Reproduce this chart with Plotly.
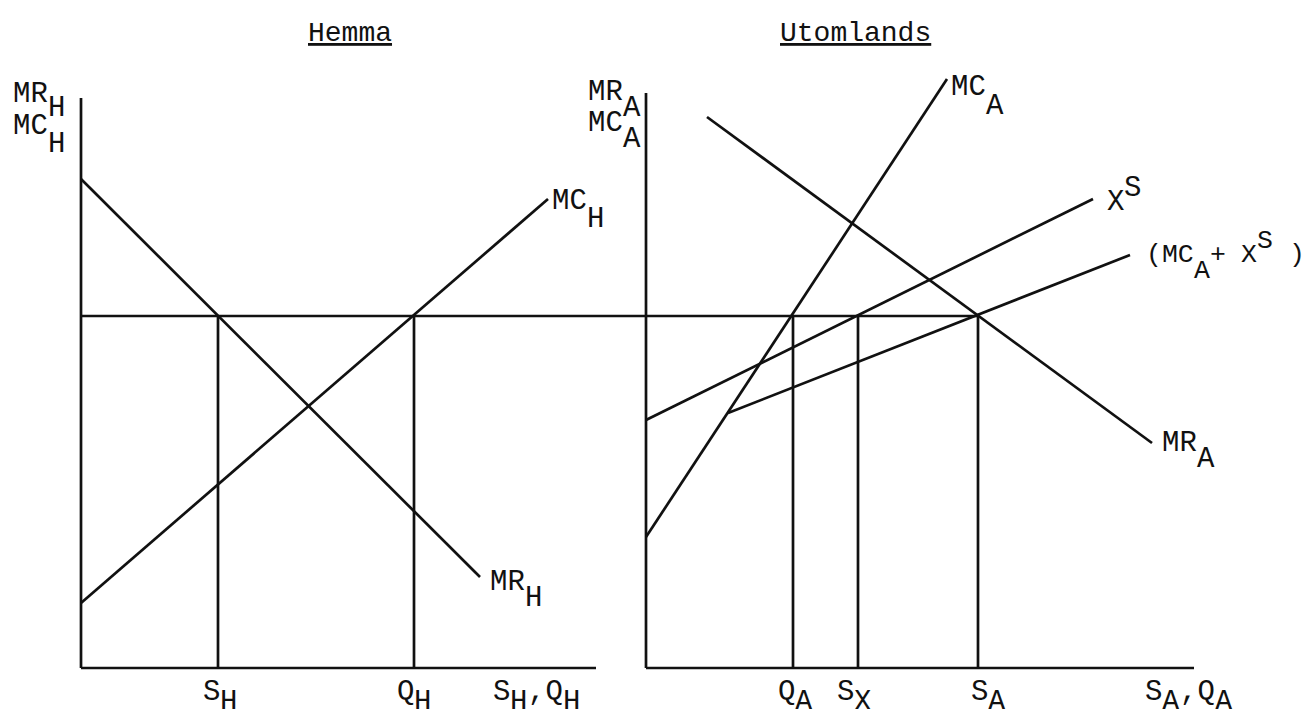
import plotly.graph_objects as go

FONT = "Liberation Mono, Courier New, monospace"
FS = 29
INK = "#111111"
LW = 2.7

# ---------------- Hemma (home) panel : quantity / price units ----------------
p_star = 70.4                 # common price level (horizontal line)
home_q_axis_end = 103.0
home_p_axis_end = 114.0
home_price_line_end = 113.0   # horizontal line continues to the abroad axis
S_H = 27.4
Q_H = 66.6
MR_H_q = [0.0, 79.8]
MR_H_p = [97.8, 18.2]
MC_H_q = [0.0, 93.4]
MC_H_p = [13.0, 93.8]

# ---------------- Utomlands (abroad) panel ----------------
abroad_q_axis_end = 109.6
abroad_p_axis_end = 115.0
Q_A = 29.4
S_X = 42.4
S_A = 66.4
MC_A_q = [0.0, 60.2]
MC_A_p = [26.2, 117.8]
XS_q = [0.0, 89.4]
XS_p = [49.6, 93.8]
MCXS_q = [16.4, 96.8]
MCXS_p = [51.0, 82.6]
MR_A_q = [12.2, 101.2]
MR_A_p = [110.2, 45.0]

# page geometry (the html body adds an 8px margin)
W, H, OFF = 1304, 701, 8


def px(x):
    return (x - OFF) / W


def py(y):
    return 1 - (y - OFF) / H


fig = go.Figure()


def seg(xs, ys, ax):
    xa, ya = ("x", "y") if ax == 1 else ("x2", "y2")
    fig.add_trace(go.Scatter(x=xs, y=ys, mode="lines", xaxis=xa, yaxis=ya,
                             line=dict(color=INK, width=LW),
                             hoverinfo="skip", showlegend=False))


# home panel
seg([0, 0], [0, home_p_axis_end], 1)
seg([0, home_q_axis_end], [0, 0], 1)
seg([0, home_price_line_end], [p_star, p_star], 1)
seg([S_H, S_H], [0, p_star], 1)
seg([Q_H, Q_H], [0, p_star], 1)
seg(MR_H_q, MR_H_p, 1)
seg(MC_H_q, MC_H_p, 1)

# abroad panel
seg([0, 0], [0, abroad_p_axis_end], 2)
seg([0, abroad_q_axis_end], [0, 0], 2)
seg([0, S_A], [p_star, p_star], 2)
seg([Q_A, Q_A], [0, p_star], 2)
seg([S_X, S_X], [0, p_star], 2)
seg([S_A, S_A], [0, p_star], 2)
seg(MC_A_q, MC_A_p, 2)
seg(XS_q, XS_p, 2)
seg(MCXS_q, MCXS_p, 2)
seg(MR_A_q, MR_A_p, 2)

ann = []


def lab(ax, x, y, dx, dy, rows, fs=FS):
    """Typewriter-style label: each row is (text, y offset); spaces keep columns."""
    xr, yr = ("x", "y") if ax == 1 else ("x2", "y2")
    cw = 0.6 * fs
    for txt, off in rows:
        col = 0
        for run in txt.split(" "):
            if run:
                ann.append(dict(xref=xr, yref=yr, x=x, y=y,
                                xshift=dx + col * cw, yshift=dy + off,
                                text=run, showarrow=False, borderpad=0,
                                xanchor="left", yanchor="middle",
                                font=dict(family=FONT, size=fs, color=INK)))
            col += len(run) + 1


# axis titles
lab(1, 0, home_p_axis_end, -69, 4, [("MR", 0), ("  H", -14), ("MC", -32), ("  H", -50)])
lab(2, 0, abroad_p_axis_end, -59, 1, [("MR", 0), ("  A", -16), ("MC", -31), ("  A", -47)])

# curve labels
lab(1, MC_H_q[1], MC_H_p[1], 3, -2, [("MC", 0), ("  H", -18)])
lab(1, MR_H_q[1], MR_H_p[1], 9, -5, [("MR", 0), ("  H", -16)])
lab(2, MC_A_q[1], MC_A_p[1], 3, -8, [("MC", 0), ("  A", -19)])
lab(2, MR_A_q[1], MR_A_p[1], 9, 0, [("MR", 0), ("  A", -16)])
lab(2, XS_q[1], XS_p[1], 13, -3, [("X", 0), (" S", 14)])
lab(2, MCXS_q[1], MCXS_p[1], 15, 0, [("(MC + X  )", 0), ("   A", -16), ("       S", 14)], fs=26.5)

# quantity labels on the axes
TY, TS = -24, -34
lab(1, S_H, 0, -16, TY, [("S", 0), (" H", TS - TY)])
lab(1, Q_H, 0, -18, TY, [("Q", 0), (" H", TS - TY)])
lab(1, home_q_axis_end, 0, -104, TY, [("S ,Q", 0), (" H  H", TS - TY)])
lab(2, Q_A, 0, -16, TY, [("Q", 0), (" A", TS - TY)])
lab(2, S_X, 0, -22, TY, [("S", 0), (" X", TS - TY)])
lab(2, S_A, 0, -8, TY, [("S", 0), (" A", TS - TY)])
lab(2, abroad_q_axis_end, 0, -50, TY, [("S ,Q", 0), (" A  A", TS - TY)])

# panel titles
for t, xc in (("Hemma", 350), ("Utomlands", 855)):
    ann.append(dict(xref="paper", yref="paper", x=px(xc), y=py(34), text="<u>%s</u>" % t,
                    showarrow=False, xanchor="center", yanchor="middle",
                    font=dict(family=FONT, size=28, color=INK)))

YDOM = [py(678), py(60)]
fig.update_layout(
    width=W, height=H, autosize=False,
    margin=dict(l=0, r=0, t=0, b=0),
    paper_bgcolor="white", plot_bgcolor="rgba(0,0,0,0)",
    annotations=ann,
    xaxis=dict(domain=[px(71), px(646)], range=[-2, 113], visible=False),
    yaxis=dict(domain=YDOM, range=[-2, 121.6], visible=False),
    xaxis2=dict(domain=[px(636), px(1214)], range=[-2, 113.6], visible=False, anchor="y2"),
    yaxis2=dict(domain=YDOM, range=[-2, 121.6], visible=False, anchor="x2"),
)

fig.write_html("out.html")
